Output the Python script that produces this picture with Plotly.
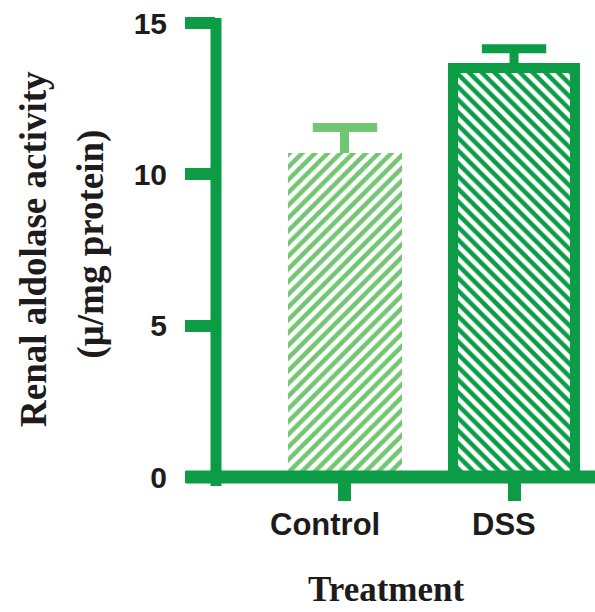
import plotly.graph_objects as go

# Renal aldolase activity by treatment group
groups = ["Control", "DSS"]
activity = [10.7, 13.5]          # µ/mg protein
sem = [0.85, 0.65]               # upper error (SEM)
positions = [0, 1]

GREEN = "#0b9c45"
LIGHT_GREEN = "#72c672"
INK = "#1d1b1b"

W, H = 595, 612
L, R, T, B = 216, 0, 23, 135
PW, PH = W - L - R, H - T - B


def px(x):
    return (x - L) / PW


def py(y):
    return (H - B - y) / PH


fig = go.Figure()

styles = [
    dict(shape="/", fg=LIGHT_GREEN, width=0.67, outline=0),
    dict(shape="\\", fg=GREEN, width=0.72, outline=10),
]

for pos, val, err, st in zip(positions, activity, sem, styles):
    # hatched bar with an upward error stem
    fig.add_trace(go.Bar(
        x=[pos], y=[val], width=[st["width"]],
        marker=dict(
            color="white",
            line=dict(width=st["outline"], color=st["fg"]),
            pattern=dict(shape=st["shape"], fgcolor=st["fg"], bgcolor="white",
                         size=9, solidity=0.5, fillmode="replace"),
        ),
        error_y=dict(type="data", symmetric=False, array=[err], arrayminus=[0],
                     color=st["fg"], thickness=9, width=0),
        showlegend=False,
    ))
    # error cap
    fig.add_trace(go.Scatter(
        x=[pos], y=[val + err], mode="markers",
        marker=dict(symbol="line-ew", size=46,
                    line=dict(width=9, color=st["fg"])),
        showlegend=False, hoverinfo="skip",
    ))

# heavy axis lines
fig.add_shape(type="line", xref="paper", yref="paper",
              x0=0, x1=0, y0=py(486), y1=py(18),
              line=dict(color=GREEN, width=11))
fig.add_shape(type="line", xref="paper", yref="paper",
              x0=px(186), x1=1, y0=0, y1=0,
              line=dict(color=GREEN, width=13))

# category labels
for pos, name, shift in zip(positions, groups, [-20, -10]):
    fig.add_annotation(x=pos, y=py(524), xref="x", yref="paper",
                       text=name, showarrow=False, xshift=shift,
                       xanchor="center", yanchor="middle",
                       font=dict(family="Liberation Sans", size=31,
                                 weight="bold", color=INK))

fig.add_annotation(x=px(386), y=py(589), xref="paper", yref="paper",
                   text="Treatment", showarrow=False,
                   xanchor="center", yanchor="middle",
                   font=dict(family="Liberation Serif", size=35,
                             weight="bold", color=INK))

fig.add_annotation(x=px(33), y=py(249), xref="paper", yref="paper",
                   text="Renal aldolase activity", showarrow=False,
                   textangle=-90, xanchor="center", yanchor="middle",
                   font=dict(family="Liberation Serif", size=37,
                             weight="bold", color=INK))
fig.add_annotation(x=px(90), y=py(243.5), xref="paper", yref="paper",
                   text="(\u03bc/mg protein)", showarrow=False,
                   textangle=-90, xanchor="center", yanchor="middle",
                   font=dict(family="Liberation Serif", size=37,
                             weight="bold", color=INK))

fig.update_xaxes(
    range=[-0.763, 1.479], tickvals=positions, ticktext=["", ""],
    showline=False, showgrid=False, zeroline=False,
    ticks="outside", ticklen=23, tickwidth=13, tickcolor=GREEN,
)
fig.update_yaxes(
    range=[0, 15], tickvals=[0, 5, 10, 15],
    showline=False, showgrid=False, zeroline=False,
    ticks="outside", ticklen=30, tickwidth=12, tickcolor=GREEN,
    ticklabelstandoff=12,
    tickfont=dict(family="Liberation Sans", size=30, weight="bold", color=INK),
)

fig.update_layout(
    width=W, height=H,
    margin=dict(l=L, r=R, t=T, b=B, pad=0),
    paper_bgcolor="white", plot_bgcolor="white",
    bargap=0, barmode="overlay",
)

fig.write_html("out.html")
